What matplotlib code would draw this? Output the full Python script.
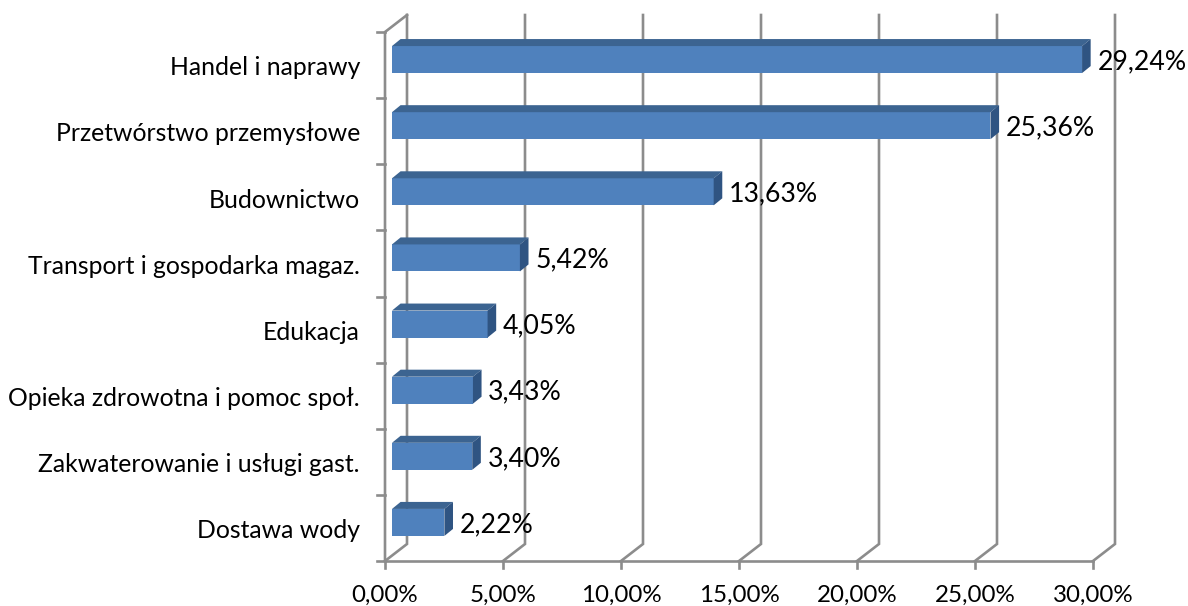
import matplotlib
matplotlib.use('Agg')
import matplotlib.pyplot as plt
from matplotlib.patches import Polygon

plt.rcParams['font.family'] = ['Lato', 'DejaVu Sans']

categories = ['Handel i naprawy', 'Przetwórstwo przemysłowe', 'Budownictwo',
              'Transport i gospodarka magaz.', 'Edukacja',
              'Opieka zdrowotna i pomoc społ.', 'Zakwaterowanie i usługi gast.',
              'Dostawa wody']
values = [29.24, 25.36, 13.63, 5.42, 4.05, 3.43, 3.40, 2.22]
xticks = [0, 5, 10, 15, 20, 25, 30]

W, H = 1188, 606
grid_color = '#8c8c8c'
lw = 1.9

fig = plt.figure(figsize=(W / 100, H / 100), dpi=100)
# plot box in pixels: x 385..1093, y 32..561
ax = fig.add_axes([385 / W, 1 - 561 / H, 708 / W, 529 / H])
ax.set_xlim(0, 30)
ax.set_ylim(8, 0)
ax.axis('off')

# 3d depth of the walls and the bars, in data units
wall_dx, wall_dy = 22 / 23.6, 17 / 66.1
bar_x0, bar_up = 7 / 23.6, 5.5 / 66.1
bar_h = 27 / 66.1
depth_dx, depth_dy = 8.6 / 23.6, 7 / 66.1

# back wall + floor
for t in xticks:
    ax.plot([t, t + wall_dx, t + wall_dx], [8, 8 - wall_dy, -wall_dy],
            color=grid_color, lw=lw, clip_on=False, zorder=1, solid_joinstyle='miter')
    ax.plot([t, t], [8, 8.11], color=grid_color, lw=lw, clip_on=False, zorder=1)
ax.plot([0, 30], [8, 8], color=grid_color, lw=lw, clip_on=False, zorder=2)
ax.plot([wall_dx, 0, 0], [-wall_dy, 0, 8], color=grid_color, lw=lw, clip_on=False, zorder=2)
for i in range(9):
    ax.plot([-0.33, 0], [i, i], color=grid_color, lw=lw, clip_on=False, zorder=2)

# bars
for i, v in enumerate(values):
    top = i + 0.5 - bar_up - bar_h / 2
    bottom = top + bar_h
    right = v + bar_x0
    ax.barh(top + bar_h / 2, right - bar_x0, height=bar_h, left=bar_x0,
            color='#4f81bd', zorder=3)
    ax.add_patch(Polygon([(bar_x0, top), (bar_x0 + depth_dx, top - depth_dy),
                          (right + depth_dx, top - depth_dy), (right, top)],
                         closed=True, color='#3c6491', lw=0, zorder=3))
    ax.add_patch(Polygon([(right, top), (right + depth_dx, top - depth_dy),
                          (right + depth_dx, bottom - depth_dy), (right, bottom)],
                         closed=True, color='#2f5482', lw=0, zorder=3))
    label = f'{v:.2f}%'.replace('.', ',')
    ax.annotate(label, (right, top + bar_h / 2), xytext=(11, -1.5),
                textcoords='offset points', ha='left', va='center',
                fontsize=19.2, color='black', zorder=5, annotation_clip=False)
    ax.annotate(categories[i], (0, i + 0.5), xytext=(-18, -2),
                textcoords='offset points', ha='right', va='center',
                fontsize=17.8, color='black', annotation_clip=False)

for t in xticks:
    ax.annotate(f'{t:.2f}%'.replace('.', ','), (t, 8), xytext=(0, -25),
                textcoords='offset points', ha='center', va='center',
                fontsize=17.4, color='black', annotation_clip=False)

fig.savefig('out.png', dpi=100)
